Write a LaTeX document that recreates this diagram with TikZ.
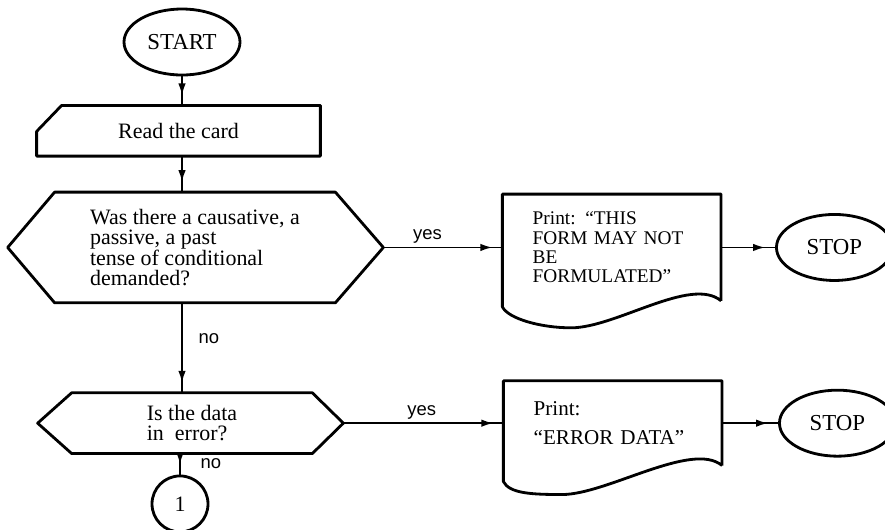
\documentclass[tikz,border=0pt]{standalone}
\usepackage{fontspec}
\setmainfont{Liberation Serif}
\newfontfamily\lblfont{Liberation Sans}
\usetikzlibrary{positioning,calc,arrows.meta,shapes.geometric,decorations.markings}

\begin{document}
\begin{tikzpicture}[font=\fontsize{12.5}{11.5}\selectfont,
  term/.style={draw, ellipse, line width=1.6pt, minimum width=23.2mm, minimum height=13.2mm, inner sep=0pt, font=\fontsize{13}{13}\selectfont},
  body/.style={inner sep=0pt, align=left},
  prt/.style={inner xsep=6mm, inner ysep=0pt, text width=31.6mm, align=left, font=\fontsize{11}{11}\selectfont},
  outl/.style={line width=1.6pt, line join=round},
  lbl/.style={font=\lblfont\fontsize{10.5}{10.5}\selectfont, inner sep=1pt},
  conn/.style={line width=1pt, postaction={decorate},
    decoration={markings, mark=at position -2mm with {\arrow{Latex[length=2.4mm,width=1.5mm]}}}}]
\useasboundingbox (0,0) rectangle (177mm,-105.8mm);
\node[term] (start) at (36.4mm,-8.4mm) {START};
\node[body, minimum width=56.6mm, minimum height=10mm, below=5.8mm of start, xshift=-0.7mm] (card) {Read the card};
\node[body, minimum width=56mm, minimum height=22mm, below=7.2mm of card, xshift=3.3mm] (q1) {Was there a causative, a\\passive, a past\\tense of conditional\\demanded?};
\node[body, minimum width=48mm, minimum height=12mm, below=18mm of q1, xshift=-0.6mm] (q2) {Is the data\\in\ \ error?};
\node[draw, circle, outl, minimum size=11.2mm, inner sep=0pt, below=4.2mm of q2, xshift=-2.4mm] (c1) {1};
\node[prt, minimum height=21.2mm, right=33.4mm of q1] (p1) {Print: “THIS\\FORM MAY NOT\\BE\\FORMULATED”};
\node[term, right=10.8mm of p1] (stop1) {STOP};
\node[prt, minimum height=16.8mm, font=\fontsize{12}{12}\selectfont, right=38.2mm of q2] (p2) {Print:\\[5pt]“ERROR DATA”};
\node[term, right=11.2mm of p2] (stop2) {STOP};
\coordinate (q1l) at ([xshift=-9.4mm]q1.west);
\coordinate (q1r) at ([xshift=9.6mm]q1.east);
\coordinate (q2l) at ([xshift=-6.8mm]q2.west);
\coordinate (q2r) at ([xshift=6.2mm]q2.east);
\draw[outl] ([yshift=-5.2mm]card.north west) -- ([xshift=5mm]card.north west) -- (card.north east) -- (card.south east) -- (card.south west) -- cycle;
\draw[outl] (q1.north west) -- (q1.north east) -- (q1r) -- (q1.south east) -- (q1.south west) -- (q1l) -- cycle;
\draw[outl] (q2.north west) -- (q2.north east) -- (q2r) -- (q2.south east) -- (q2.south west) -- (q2l) -- cycle;
\draw[outl] (p1.south east) -- (p1.north east) -- (p1.north west) -- ([yshift=-1.2mm]p1.south west)
  .. controls +(1.2mm,-2.4mm) and +(-6mm,0) .. ([xshift=-30mm,yshift=-5.4mm]p1.south east)
  .. controls +(9mm,0) and +(-6mm,5mm) .. (p1.south east);
\draw[outl] (p2.south east) -- (p2.north east) -- (p2.north west) -- ([yshift=-3.2mm]p2.south west)
  .. controls +(1.2mm,-2.4mm) and +(-6mm,0) .. ([xshift=-32mm,yshift=-5.8mm]p2.south east)
  .. controls +(9mm,0) and +(-6mm,5mm) .. (p2.south east);
\draw[conn] (start) -- (start |- card.north);
\draw[conn] (card.south -| start) -- (q1.north -| start);
\draw[conn] (q1.south -| start) -- node[lbl, pos=0.4, right=2.8mm]{no} (q2.north -| start);
\draw[conn] (q2.south -| c1) -- node[lbl, right=3.6mm]{no} (c1);
\draw[conn] (q1r) -- node[lbl, pos=0.37, above=0.3mm]{yes} (p1.west);
\draw[conn] (q2r) -- node[lbl, pos=0.49, above=0.3mm]{yes} (p2.west);
\draw[conn] (p1.east) -- (stop1);
\draw[conn] (p2.east) -- (stop2);
\end{tikzpicture}
\end{document}
